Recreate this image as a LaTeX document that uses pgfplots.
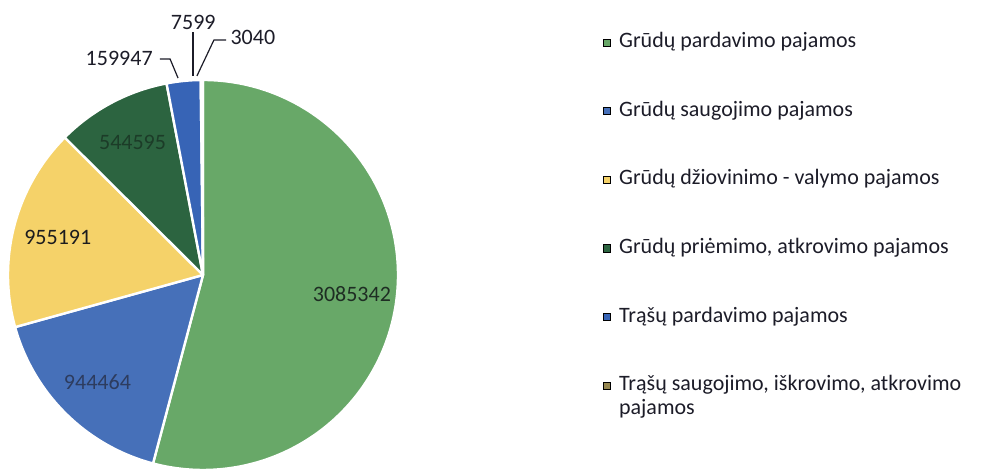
\documentclass[border=0pt]{standalone}
\usepackage{fontspec}
\setmainfont{Carlito}
\usepackage{pgfplots}
\usepackage{pgfplotstable}
\pgfplotsset{compat=1.18}

\definecolor{slice0}{RGB}{104,168,104}
\definecolor{slice1}{RGB}{70,112,185}
\definecolor{slice2}{RGB}{245,210,105}
\definecolor{slice3}{RGB}{44,100,64}
\definecolor{slice4}{RGB}{55,100,182}
\definecolor{slice5}{RGB}{150,135,80}
\definecolor{slice6}{RGB}{120,150,200}
\definecolor{txt}{RGB}{28,28,40}
\definecolor{lab0}{RGB}{30,45,35}
\definecolor{lab1}{RGB}{45,60,95}
\definecolor{lab2}{RGB}{28,28,30}
\definecolor{lab3}{RGB}{28,60,40}

% pajamos, clockwise from 12 o'clock
\pgfplotstableread{
value
3085342
944464
955191
544595
159947
7599
3040
}\piedata

% angles need the fpu, the sums are too big for pgfmath
\begingroup
\pgfkeys{/pgf/fpu=true,/pgf/fpu/output format=fixed}
\gdef\pietotal{0}
\pgfplotstableforeachcolumnelement{value}\of\piedata\as\v{%
  \pgfmathparse{\pietotal+\v}\xdef\pietotal{\pgfmathresult}}
\gdef\piecum{0}
\gdef\pieslices{}
\gdef\pielabels{}
\pgfplotstableforeachcolumnelement{value}\of\piedata\as\v{%
  \pgfmathparse{90-360*\piecum/\pietotal}\let\a\pgfmathresult
  \pgfmathparse{\piecum+\v}\xdef\piecum{\pgfmathresult}%
  \pgfmathparse{90-360*\piecum/\pietotal}\let\b\pgfmathresult
  \pgfmathparse{(\a+\b)/2}\let\m\pgfmathresult
  \pgfmathparse{0.77*cos(\m)}\let\lx\pgfmathresult
  \pgfmathparse{0.77*sin(\m)}\let\ly\pgfmathresult
  \expandafter\xdef\csname val\pgfplotstablerow\endcsname{\v}%
  \xdef\pieslices{\unexpanded\expandafter{\pieslices}%
    \noexpand\fill[slice\pgfplotstablerow, draw=white, line width=1.2pt, line join=round]
      (axis cs:0,0) -- ++(\a:97.5pt) arc[start angle=\a, end angle=\b, radius=97.5pt] -- cycle;}%
  \ifnum\pgfplotstablerow<4
    \xdef\pielabels{\unexpanded\expandafter{\pielabels}%
      \noexpand\node[text=lab\pgfplotstablerow] at (axis cs:\lx,\ly) {\v};}%
  \fi
}
\endgroup

\begin{document}
\begin{tikzpicture}[font=\fontsize{11}{13}\selectfont]
\begin{axis}[
  at={(101.5pt,97.5pt)}, anchor=center,
  scale only axis, width=195pt, height=195pt,
  xmin=-1, xmax=1, ymin=-1, ymax=1,
  hide axis, clip=false,
  legend cell align=left,
  legend image code/.code={\fill[#1] (0pt,-1.8pt) rectangle (3.6pt,1.8pt);},
  legend style={at={(1.525,1.125)}, anchor=north west, draw=none, fill=none,
    font=\fontsize{11}{13}\selectfont, text=txt, row sep=23.3pt, column sep=4pt,
    inner sep=0pt, nodes={inner sep=0pt, text height=8pt, text depth=3pt}},
]
  \pieslices
  \pielabels
  % small slices: labels outside with leader lines
  \draw[txt, line width=0.6pt] (axis cs:-0.221,1.108) -- (axis cs:-0.169,1.108) -- (axis cs:-0.128,1.010);
  \draw[txt, line width=0.6pt] (axis cs:-0.051,1.246) -- (axis cs:-0.051,1.021);
  \draw[txt, line width=0.6pt] (axis cs:0.118,1.205) -- (axis cs:0.056,1.205) -- (axis cs:-0.031,1.021);
  \node[text=txt, anchor=east] at (axis cs:-0.222,1.112) {\csname val4\endcsname};
  \node[text=txt] at (axis cs:-0.05,1.297) {\csname val5\endcsname};
  \node[text=txt, anchor=west] at (axis cs:0.105,1.22) {\csname val6\endcsname};

  \addlegendimage{fill=slice0}
  \addlegendentry{Grūdų pardavimo pajamos}
  \addlegendimage{fill=slice1}
  \addlegendentry{Grūdų saugojimo pajamos}
  \addlegendimage{fill=slice2}
  \addlegendentry{Grūdų džiovinimo - valymo pajamos}
  \addlegendimage{fill=slice3}
  \addlegendentry{Grūdų priėmimo, atkrovimo pajamos}
  \addlegendimage{fill=slice4}
  \addlegendentry{Trąšų pardavimo pajamos}
  \addlegendimage{fill=slice5}
  \addlegendentry{\rlap{\raisebox{-12pt}[0pt][0pt]{pajamos}}Trąšų saugojimo, iškrovimo, atkrovimo}
\end{axis}
\pgfresetboundingbox
\path[use as bounding box] (0,0) rectangle (493pt,235pt);
\end{tikzpicture}
\end{document}
